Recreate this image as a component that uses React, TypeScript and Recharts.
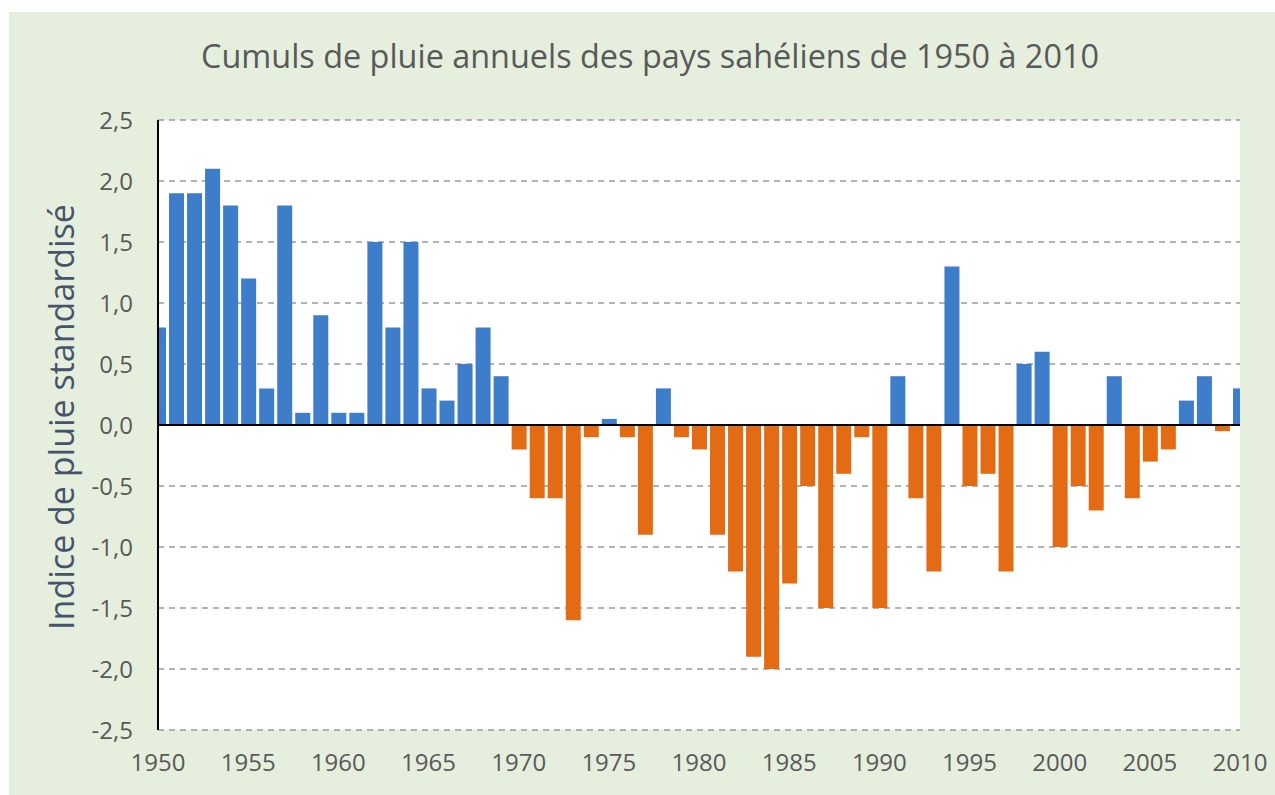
import React from "react";
import { BarChart, Bar, XAxis, YAxis, CartesianGrid, ReferenceLine, Cell } from "recharts";

const years: number[] = [
  1950, 1951, 1952, 1953, 1954, 1955, 1956, 1957, 1958, 1959,
  1960, 1961, 1962, 1963, 1964, 1965, 1966, 1967, 1968, 1969,
  1970, 1971, 1972, 1973, 1974, 1975, 1976, 1977, 1978, 1979,
  1980, 1981, 1982, 1983, 1984, 1985, 1986, 1987, 1988, 1989,
  1990, 1991, 1992, 1993, 1994, 1995, 1996, 1997, 1998, 1999,
  2000, 2001, 2002, 2003, 2004, 2005, 2006, 2007, 2008, 2009, 2010,
];

const rainIndex: number[] = [
  0.8, 1.9, 1.9, 2.1, 1.8, 1.2, 0.3, 1.8, 0.1, 0.9,
  0.1, 0.1, 1.5, 0.8, 1.5, 0.3, 0.2, 0.5, 0.8, 0.4,
  -0.2, -0.6, -0.6, -1.6, -0.1, 0.05, -0.1, -0.9, 0.3, -0.1,
  -0.2, -0.9, -1.2, -1.9, -2.0, -1.3, -0.5, -1.5, -0.4, -0.1,
  -1.5, 0.4, -0.6, -1.2, 1.3, -0.5, -0.4, -1.2, 0.5, 0.6,
  -1.0, -0.5, -0.7, 0.4, -0.6, -0.3, -0.2, 0.2, 0.4, -0.05, 0.3,
];

const xTicks: number[] = [1950, 1955, 1960, 1965, 1970, 1975, 1980, 1985, 1990, 1995, 2000, 2005, 2010];
const yTicks: number[] = [-2.5, -2, -1.5, -1, -0.5, 0, 0.5, 1, 1.5, 2, 2.5];

const title = "Cumuls de pluie annuels des pays sahéliens de 1950 à 2010";
const yLabel = "Indice de pluie standardisé";

const data = years.map((y, i) => ({ year: y, value: rainIndex[i] }));

const POS = "#3d7dca";
const NEG = "#e36b14";
const FONT = "'Open Sans', 'Noto Sans', sans-serif";

export default function App() {
  return (
    <div style={{ position: "absolute", left: 0, top: 0, width: 1275, height: 795, background: "#ffffff" }}>
      <div
        style={{
          position: "absolute",
          left: 9,
          top: 12,
          width: 1266,
          height: 783,
          background: "#e6efdd",
          fontFamily: FONT,
        }}
      >
        <BarChart
          width={1266}
          height={783}
          data={data}
          margin={{ top: 108, right: 35, bottom: 53, left: 69 }}
        >
          <CartesianGrid
            vertical={false}
            horizontal={true}
            fill="#ffffff"
            stroke="#9a9a9a"
            strokeDasharray="6 5"
            strokeWidth={1.3}
          />
          <XAxis
            dataKey="year"
            type="number"
            domain={[1950, 2010]}
            ticks={xTicks}
            allowDataOverflow={true}
            axisLine={false}
            tickLine={false}
            tickSize={0}
            tickMargin={24}
            height={12}
            tick={{ fill: "#595959", fontSize: 24, fontFamily: FONT }}
            interval={0}
          />
          <YAxis
            type="number"
            domain={[-2.5, 2.5]}
            ticks={yTicks}
            allowDataOverflow={true}
            width={80}
            axisLine={{ stroke: "#000000", strokeWidth: 2 }}
            tickLine={false}
            tickSize={0}
            tickMargin={25}
            interval={0}
            tick={{ fill: "#595959", fontSize: 24, fontFamily: FONT }}
            tickFormatter={(v: number) => v.toFixed(1).replace(".", ",")}
          />
          <Bar dataKey="value" barSize={15} isAnimationActive={false}>
            {data.map((d, i) => (
              <Cell key={i} fill={d.value >= 0 ? POS : NEG} />
            ))}
          </Bar>
          <ReferenceLine y={0} stroke="#000000" strokeWidth={2} />
        </BarChart>
        <div
          style={{
            position: "absolute",
            left: 0,
            width: 1282,
            top: 21,
            textAlign: "center",
            fontSize: 32.4,
            color: "#595959",
            whiteSpace: "nowrap",
          }}
        >
          {title}
        </div>
        <div
          style={{
            position: "absolute",
            left: 52,
            top: 405,
            width: 0,
            height: 0,
          }}
        >
          <div
            style={{
              position: "absolute",
              left: 0,
              top: 0,
              transform: "translate(-50%, -50%) rotate(-90deg)",
              fontSize: 34,
              color: "#44546a",
              whiteSpace: "nowrap",
            }}
          >
            {yLabel}
          </div>
        </div>
      </div>
    </div>
  );
}
